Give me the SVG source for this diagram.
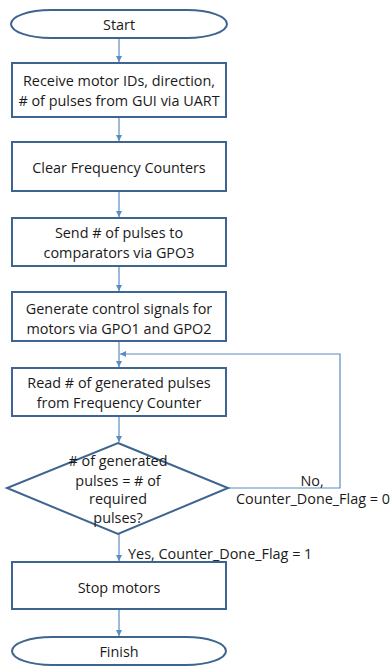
<svg xmlns="http://www.w3.org/2000/svg" width="391" height="666" viewBox="0 0 391 666">
<defs>
<style>
.shape{fill:#ffffff;stroke:#3d6590;stroke-width:2}
.conn{fill:none;stroke:#5a8cc4;stroke-width:1.2}
text{font-family:"Open Sans","Liberation Sans",sans-serif;font-size:14.4px;fill:#1a1a1a;text-anchor:middle;dominant-baseline:central}
.lbl{text-anchor:start}
</style>
<marker id="arr" viewBox="0 0 10 10" refX="10" refY="5" markerWidth="6" markerHeight="6" orient="auto" markerUnits="userSpaceOnUse">
<path d="M0,0 L10,5 L0,10 z" fill="#5a8cc4"/>
</marker>
</defs>
<rect width="391" height="666" fill="#ffffff"/>
<g id="connectors">
<line class="conn" x1="119" y1="38" x2="119" y2="62" marker-end="url(#arr)"/>
<line class="conn" x1="119" y1="117" x2="119" y2="141" marker-end="url(#arr)"/>
<line class="conn" x1="119" y1="191" x2="119" y2="217" marker-end="url(#arr)"/>
<line class="conn" x1="119" y1="266" x2="119" y2="291" marker-end="url(#arr)"/>
<line class="conn" x1="119" y1="341" x2="119" y2="367" marker-end="url(#arr)"/>
<line class="conn" x1="119" y1="416" x2="119" y2="442" marker-end="url(#arr)"/>
<polyline class="conn" points="228,488 340,488 340,354 120,354" marker-end="url(#arr)"/>
<line class="conn" x1="119" y1="534" x2="119" y2="561" marker-end="url(#arr)"/>
<line class="conn" x1="119" y1="609" x2="119" y2="636" marker-end="url(#arr)"/>
<text x="312" y="480">No,</text>
<text x="313" y="498">Counter_Done_Flag = 0</text>
<text class="lbl" x="128" y="553">Yes, Counter_Done_Flag = 1</text>
</g>
<g id="start">
<rect class="shape" x="11" y="10" width="216" height="28" rx="40" ry="14"/>
<text x="119" y="24">Start</text>
</g>
<g id="receive">
<rect class="shape" x="12" y="63" width="214" height="54"/>
<text x="119" y="80">Receive motor IDs, direction,</text>
<text x="119" y="100"># of pulses from GUI via UART</text>
</g>
<g id="clear">
<rect class="shape" x="12" y="142" width="214" height="49"/>
<text x="119" y="167">Clear Frequency Counters</text>
</g>
<g id="send">
<rect class="shape" x="12" y="218" width="214" height="48"/>
<text x="119" y="232">Send # of pulses to</text>
<text x="119" y="252">comparators via GPO3</text>
</g>
<g id="generate">
<rect class="shape" x="12" y="292" width="214" height="49"/>
<text x="119" y="308">Generate control signals for</text>
<text x="119" y="328">motors via GPO1 and GPO2</text>
</g>
<g id="read">
<rect class="shape" x="12" y="368" width="214" height="48"/>
<text x="119" y="382">Read # of generated pulses</text>
<text x="119" y="402">from Frequency Counter</text>
</g>
<g id="decision">
<polygon class="shape" points="118,443 228,488 118,534 7,488"/>
<text x="118" y="460"># of generated</text>
<text x="118" y="480">pulses = # of</text>
<text x="118" y="498">required</text>
<text x="118" y="517">pulses?</text>
</g>
<g id="stop">
<rect class="shape" x="12" y="562" width="214" height="47"/>
<text x="119" y="587">Stop motors</text>
</g>
<g id="finish">
<rect class="shape" x="12" y="637" width="214" height="28" rx="40" ry="14"/>
<text x="119" y="651">Finish</text>
</g>
</svg>
